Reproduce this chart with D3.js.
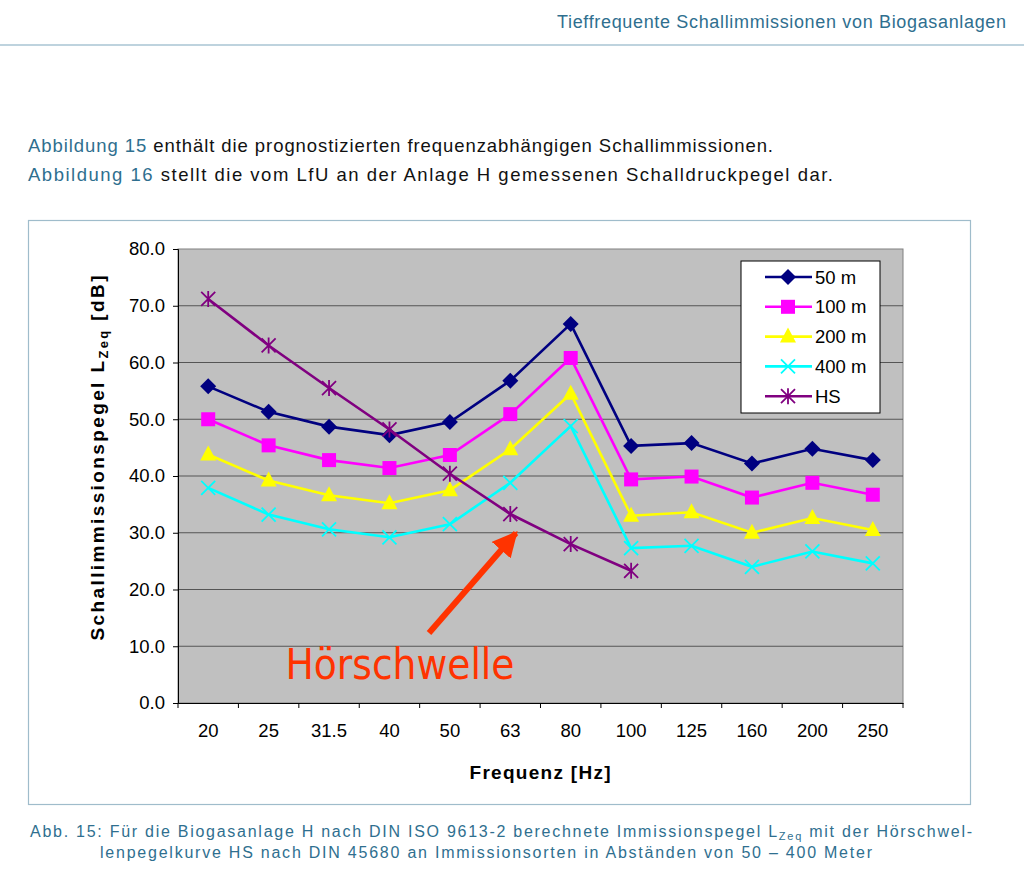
<!DOCTYPE html>
<html><head><meta charset="utf-8">
<script src="https://cdn.jsdelivr.net/npm/d3@7"></script>
<style>
body{margin:0;background:#fff;font-family:Arial,"Liberation Sans",sans-serif}
</style></head>
<body><svg id="c" width="1024" height="880"></svg>
<script>
const freqs = ['20','25','31.5','40','50','63','80','100','125','160','200','250'];
const m50  = [55.8,51.3,48.7,47.2,49.5,56.8,66.8,45.3,45.8,42.2,44.8,42.8];
const m100 = [50.0,45.4,42.8,41.4,43.7,50.9,60.8,39.4,39.9,36.2,38.8,36.7];
const m200 = [43.8,39.2,36.6,35.2,37.5,44.7,54.5,33.0,33.6,30.0,32.6,30.5];
const m400 = [37.9,33.2,30.6,29.2,31.5,38.8,48.8,27.3,27.7,24.0,26.7,24.6];
const hs   = [71.2,63.0,55.5,48.2,40.4,33.3,28.0,23.3];
const yTicks = [0,10,20,30,40,50,60,70,80];

const svg = d3.select('#c');
const teal = '#2f6f8f';

// header
svg.append('text').attr('x',1006).attr('y',28).attr('text-anchor','end')
  .attr('font-size',18).attr('fill',teal).attr('textLength',449).attr('lengthAdjust','spacing')
  .text('Tieffrequente Schallimmissionen von Biogasanlagen');
svg.append('line').attr('x1',0).attr('x2',1024).attr('y1',45).attr('y2',45).attr('stroke','#7fa8bd').attr('stroke-width',1.2);

// paragraph
const p1 = svg.append('text').attr('x',28).attr('y',152).attr('font-size',18.5).attr('textLength',745).attr('lengthAdjust','spacing');
p1.append('tspan').attr('fill',teal).text('Abbildung 15');
p1.append('tspan').attr('fill','#111').text(' enthält die prognostizierten frequenzabhängigen Schallimmissionen.');
const p2 = svg.append('text').attr('x',28).attr('y',181).attr('font-size',18.5).attr('textLength',805).attr('lengthAdjust','spacing');
p2.append('tspan').attr('fill',teal).text('Abbildung 16');
p2.append('tspan').attr('fill','#111').text(' stellt die vom LfU an der Anlage H gemessenen Schalldruckpegel dar.');

// chart frame
svg.append('rect').attr('x',28.5).attr('y',220.5).attr('width',942).attr('height',584)
  .attr('fill','#fff').attr('stroke','#9fbccb').attr('stroke-width',1.2);

const L=178, R=903, T=249, B=703;
const x = d3.scaleBand().domain(freqs).range([L,R]);
const y = d3.scaleLinear().domain([0,80]).range([B,T]);

svg.append('rect').attr('x',L).attr('y',T).attr('width',R-L).attr('height',B-T)
  .attr('fill','#c0c0c0').attr('stroke','#808080');
svg.append('g').selectAll('line').data(yTicks.slice(1,-1)).join('line')
  .attr('x1',L).attr('x2',R).attr('y1',d=>y(d)).attr('y2',d=>y(d)).attr('stroke','#555').attr('stroke-width',1);

const ya = svg.append('g').attr('transform',`translate(${L},0)`)
  .call(d3.axisLeft(y).tickValues(yTicks).tickFormat(d3.format('.1f')).tickSize(5).tickPadding(8));
const xa = svg.append('g').attr('transform',`translate(0,${B})`)
  .call(d3.axisBottom(x).tickSize(0).tickPadding(21));
xa.selectAll('.tick').each(function(){
  d3.select(this).append('line').attr('x1',-x.bandwidth()/2).attr('x2',-x.bandwidth()/2).attr('y2',5).attr('stroke','#000');
});
xa.append('line').attr('x1',R).attr('x2',R).attr('y2',5).attr('stroke','#000');
[ya,xa].forEach(a=>{a.selectAll('text').attr('font-size',18.5).attr('fill','#000').attr('font-family','Arial,"Liberation Sans",sans-serif');
  a.select('.domain').attr('stroke','#000');});

svg.append('text').attr('x',540).attr('y',779).attr('text-anchor','middle')
  .attr('font-size',19).attr('font-weight','bold').attr('textLength',141).attr('lengthAdjust','spacing').text('Frequenz [Hz]');
const yl = svg.append('text').attr('transform','translate(104,458) rotate(-90)').attr('text-anchor','middle')
  .attr('font-size',19).attr('font-weight','bold').attr('textLength',365).attr('lengthAdjust','spacing');
yl.append('tspan').text('Schallimmissionspegel L');
yl.append('tspan').attr('font-size',13).attr('dy',4).text('Zeq');
yl.append('tspan').attr('dy',-4).text(' [dB]');

const series = [
  {name:'50 m', vals:m50, color:'#000080', sym:'diamond'},
  {name:'100 m', vals:m100, color:'#ff00ff', sym:'square'},
  {name:'200 m', vals:m200, color:'#ffff00', sym:'triangle'},
  {name:'400 m', vals:m400, color:'#00ffff', sym:'x'},
  {name:'HS', vals:hs, color:'#800080', sym:'star'}
];
function marker(g, s, cx, cy){
  if(s.sym==='diamond') g.append('path').attr('d',`M${cx},${cy-8}L${cx+8},${cy}L${cx},${cy+8}L${cx-8},${cy}Z`).attr('fill',s.color);
  else if(s.sym==='square') g.append('rect').attr('x',cx-7).attr('y',cy-7).attr('width',14).attr('height',14).attr('fill',s.color);
  else if(s.sym==='triangle') g.append('path').attr('d',`M${cx},${cy-9}L${cx+8},${cy+6}L${cx-8},${cy+6}Z`).attr('fill',s.color);
  else {
    const d=7;
    let p=`M${cx-d},${cy-d}L${cx+d},${cy+d}M${cx-d},${cy+d}L${cx+d},${cy-d}`;
    if(s.sym==='star') p+=`M${cx},${cy-d-1}L${cx},${cy+d+1}`;
    g.append('path').attr('d',p).attr('stroke',s.color).attr('stroke-width',1.8).attr('fill','none');
  }
}
const line = d3.line().x((d,i)=>x(freqs[i])+x.bandwidth()/2).y(d=>y(d));
series.forEach(s=>{
  const g = svg.append('g');
  g.append('path').attr('d',line(s.vals)).attr('fill','none').attr('stroke',s.color).attr('stroke-width',2.6);
  s.vals.forEach((v,i)=>marker(g,s,x(freqs[i])+x.bandwidth()/2,y(v)));
});

// legend
svg.append('rect').attr('x',741).attr('y',261).attr('width',139).attr('height',152).attr('fill','#fff').attr('stroke','#000');
series.forEach((s,i)=>{
  const cy = 277+i*29.8, g=svg.append('g');
  g.append('line').attr('x1',765).attr('x2',812).attr('y1',cy).attr('y2',cy).attr('stroke',s.color).attr('stroke-width',2.6);
  marker(g,s,788,cy);
  g.append('text').attr('x',815).attr('y',cy+6.5).attr('font-size',18.5).text(s.name);
});

// annotation
svg.append('defs').append('marker').attr('id','ah').attr('viewBox','0 0 10 10').attr('refX',9).attr('refY',5)
  .attr('markerWidth',4.2).attr('markerHeight',4.2).attr('orient','auto').attr('markerUnits','strokeWidth')
  .append('path').attr('d','M0,0L10,5L0,10Z').attr('fill','#ff3300');
svg.append('line').attr('x1',429).attr('y1',633).attr('x2',516).attr('y2',533)
  .attr('stroke','#ff3300').attr('stroke-width',6).attr('marker-end','url(#ah)');
svg.append('text').attr('x',400).attr('y',679).attr('text-anchor','middle')
  .attr('font-family','"Liberation Sans Narrow","DejaVu Sans Condensed",sans-serif').attr('font-size',42)
  .attr('fill','#ff3300').attr('textLength',229).attr('lengthAdjust','spacingAndGlyphs').text('Hörschwelle');

// caption
const c1 = svg.append('text').attr('x',30).attr('y',837).attr('font-size',16).attr('fill',teal)
  .attr('textLength',942).attr('lengthAdjust','spacing');
c1.append('tspan').text('Abb. 15: Für die Biogasanlage H nach DIN ISO 9613-2 berechnete Immissionspegel L');
c1.append('tspan').attr('font-size',11).attr('dy',3).text('Zeq');
c1.append('tspan').attr('dy',-3).text(' mit der Hörschwel-');
svg.append('text').attr('x',100).attr('y',858).attr('font-size',16).attr('fill',teal)
  .attr('textLength',772).attr('lengthAdjust','spacing')
  .text('lenpegelkurve HS nach DIN 45680 an Immissionsorten in Abständen von 50 – 400 Meter');
</script></body></html>
